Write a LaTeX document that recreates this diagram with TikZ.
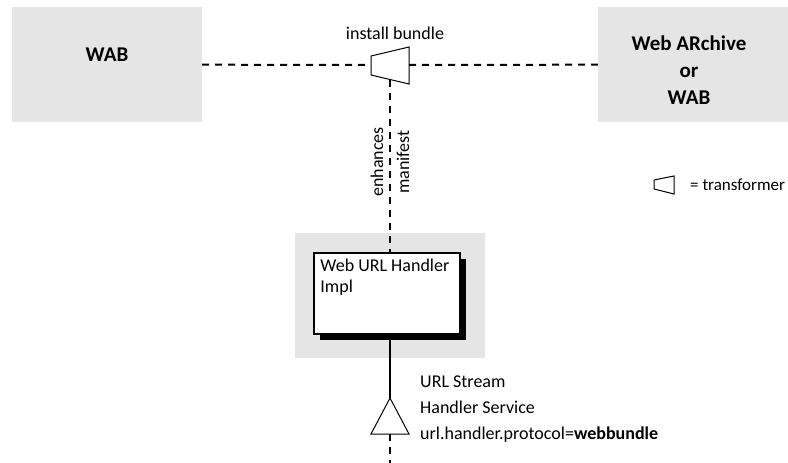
\documentclass[tikz,border=0pt]{standalone}
\usepackage{fontspec}
\setmainfont{Carlito}
\usetikzlibrary{shadows}
\begin{document}
\begin{tikzpicture}[x=1pt,y=-1pt,
  graybox/.style={fill=black!10, draw=none, inner sep=0pt},
  dashline/.style={line width=2pt, dash pattern=on 7pt off 6pt},
  solidline/.style={line width=2pt},
  outlineshape/.style={line width=1pt, line join=miter},
  lbl/.style={font=\fontsize{18}{26}\selectfont, inner sep=0pt},
  boldlbl/.style={font=\fontsize{21}{27}\selectfont\bfseries, inner sep=0pt, align=center},
  implbox/.style={draw, line width=1.5pt, fill=white, minimum width=146pt, minimum height=81pt, inner sep=0pt,
    drop shadow={shadow xshift=6pt, shadow yshift=-6pt, fill=black, opacity=1}}
]
\useasboundingbox (0,0) rectangle (788,463);

% gray boxes
\node[graybox, minimum width=190pt, minimum height=115pt] (wab) at (107,64.5) {};
\node[graybox, minimum width=190pt, minimum height=115pt] (war) at (693,64.5) {};
\node[graybox, minimum width=190pt, minimum height=125pt] (mid) at (390,295.5) {};

\node[boldlbl] (wabtxt) at (107,55) {WAB};
\node[boldlbl] (wartxt) at (689,70) {Web ARchive\\or\\WAB};

% transformer
\coordinate (trL) at (371,65);
\coordinate (trR) at (409,65);
\coordinate (trB) at (390,79.5);
\draw[outlineshape] (371,56) -- (409,47) -- (409,84) -- (371,75) -- cycle;
\node[lbl] (install) at (395,33) {install bundle};

% impl box
\node[implbox] (impl) at (387,293.5) {};
\node[lbl, anchor=north west, align=left, font=\fontsize{18}{21}\selectfont] (impltxt) at ([xshift=7pt,yshift=-7pt]impl.north west) {Web URL Handler\\Impl};

% connectors
\draw[dashline] (wab) -- (trL);
\draw[dashline] (trR) -- (war);
\draw[dashline] (trB) -- (trB |- impl.north);

\node[lbl, rotate=90] (enh) at (377,162) {enhances};
\node[lbl, rotate=90] (man) at (403,162) {manifest};

% service triangle
\coordinate (triTop) at (390,398);
\coordinate (triBot) at (390,434);
\coordinate (dEnd) at (390,463);
\draw[outlineshape] (triTop) -- (409,434) -- (371,434) -- cycle;
\draw[solidline] (impl.south -| triTop) -- (triTop);
\draw[dashline] (triBot) -- (dEnd);

\node[lbl, anchor=north west, align=left] (svc) at (420,376) {URL Stream\\Handler Service\\url.handler.protocol=\textbf{webbundle}};

% legend
\draw[outlineshape] (654,180) -- (674,176) -- (674,194) -- (654,189) -- cycle;
\node[lbl, anchor=west, font=\fontsize{17}{20}\selectfont] (legend) at (690,185) {= transformer};
\end{tikzpicture}
\end{document}
